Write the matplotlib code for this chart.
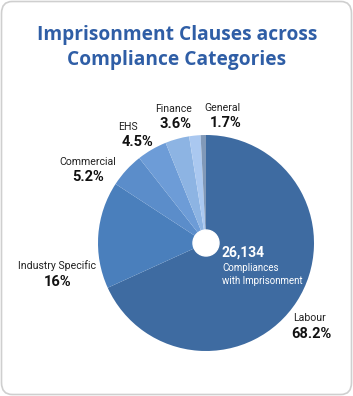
import matplotlib.pyplot as plt
from matplotlib.patches import FancyBboxPatch, Circle

categories = ["Labour", "Industry Specific", "Commercial", "EHS", "Finance", "General", ""]
shares = [68.2, 16.0, 5.2, 4.5, 3.6, 1.7, 0.8]
share_labels = ["68.2%", "16%", "5.2%", "4.5%", "3.6%", "1.7%", ""]
colors = ["#3e6ba1", "#4a7fbc", "#5b8dca", "#6d9cd7", "#8db4e3", "#aac8f0", "#8199b8"]
total = "26,134"

W, H = 353, 396
fig = plt.figure(figsize=(W / 100, H / 100), dpi=100)

def px(x, y):
    return x / W, 1 - y / H

# card behind everything
card = FancyBboxPatch((1.5 / W, 1.5 / H), (W - 3) / W, (H - 3) / H,
                      boxstyle="round,pad=0,rounding_size=0.03",
                      transform=fig.transFigure, facecolor="white",
                      edgecolor="#cfcfcf", linewidth=1.2, zorder=-10)
fig.patches.append(card)

title_color = "#2f5ea6"
fig.text(*px(177, 35), "Imprisonment Clauses across", ha="center", va="center",
         fontsize=13.8, fontweight="bold", color=title_color, family="Open Sans")
fig.text(*px(177, 60), "Compliance Categories", ha="center", va="center",
         fontsize=13.8, fontweight="bold", color=title_color, family="Open Sans")

# pie
cx, cy, r = 206, 243, 108
ax = fig.add_axes([(cx - r) / W, (H - cy - r) / H, 2 * r / W, 2 * r / H])
ax.pie(shares, colors=colors, startangle=90, counterclock=False,
       wedgeprops=dict(linewidth=0))
ax.add_patch(Circle((0, 0), 13 / r, color="white", zorder=5))
ax.set_xlim(-1, 1)
ax.set_ylim(-1, 1)
ax.axis("off")

# outside labels (name x, name y, value x, value y) in pixels
label_pos = {
    "Labour": (310, 318, 311, 334),
    "Industry Specific": (57, 266, 58, 282),
    "Commercial": (88, 162, 88, 177),
    "EHS": (128, 127, 137, 142),
    "Finance": (174, 109, 176, 124),
    "General": (222, 108, 226, 123),
}
for name, val in zip(categories, share_labels):
    if not name:
        continue
    x1, y1, x2, y2 = label_pos[name]
    fig.text(*px(x1, y1), name, ha="center", va="center", fontsize=7.6,
             color="#222222", family="Roboto")
    fig.text(*px(x2, y2), val, ha="center", va="center", fontsize=10.5,
             fontweight="bold", color="#111111", family="Roboto")

# center text
fig.text(*px(222, 253), total, ha="left", va="center", fontsize=10,
         fontweight="bold", color="white", family="Roboto", zorder=10)
fig.text(*px(222, 268), "Compliances", ha="left", va="center", fontsize=7,
         color="white", family="Roboto", zorder=10)
fig.text(*px(222, 281), "with Imprisonment", ha="left", va="center", fontsize=7,
         color="white", family="Roboto", zorder=10)

fig.savefig("out.png", dpi=100)
